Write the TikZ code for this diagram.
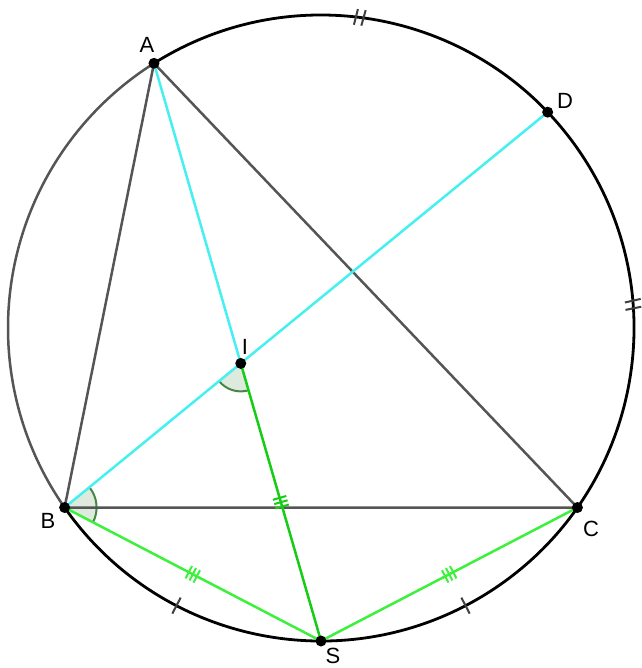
\documentclass[tikz,border=0pt]{standalone}
\usepackage{fontspec}
\setmainfont{Liberation Sans}
\usetikzlibrary{calc,angles,decorations.markings}
\definecolor{tri}{RGB}{85,85,85}
\definecolor{cya}{RGB}{70,240,240}
\definecolor{grn}{RGB}{60,240,60}
\definecolor{grnd}{RGB}{20,205,20}
\definecolor{angf}{RGB}{222,234,222}
\definecolor{angc}{RGB}{70,135,70}
\tikzset{
  circ/.style={line width=2.8pt, black},
  circg/.style={line width=2.5pt, tri},
  triline/.style={line width=2.5pt, tri},
  cyline/.style={line width=2.5pt, cya},
  grline/.style={line width=2.5pt, grn},
  grlined/.style={line width=2.5pt, grnd},
  ptdot/.style={circle, fill=black, inner sep=0pt, minimum size=11pt},
  lab/.style={font=\fontsize{22}{26}\selectfont, inner sep=0pt},
  tick/.style={line width=2pt, black!75},
  triple/.style={postaction={decorate}, decoration={markings, mark=at position 0.5 with {
     \draw[line width=2pt] (-4.5pt,-7pt)--(-4.5pt,7pt) (0pt,-7pt)--(0pt,7pt) (4.5pt,-7pt)--(4.5pt,7pt);}}},
  angm/.style={draw=angc, fill=angf, line width=2pt}
}
\begin{document}
\begin{tikzpicture}[x=1pt,y=1pt]
\useasboundingbox (0,0) rectangle (641,-668);
\def\R{313}
\coordinate (O) at (321,-328);
\coordinate (A) at ($(O)+(122.25:\R)$);
\coordinate (B) at ($(O)+(215:\R)$);
\coordinate (C) at ($(O)+(325:\R)$);
\coordinate (S) at ($(O)+(270:\R)$);
\coordinate (D) at ($(O)+(43.6:\R)$);
\coordinate (I) at (intersection of A--S and B--D);

% angle marks
\pic[angm, angle radius=28pt] {angle=B--I--S};
\pic[angm, angle radius=32pt] {angle=S--B--D};

% circle
\draw[circg] (B) arc[start angle=215, end angle=122.25, radius=\R];
\draw[circ] (B) arc[start angle=215, end angle=482.25, radius=\R];

% arc ticks
\draw[tick] ($(O)+(82.9+0.9:\R-8)$) -- ($(O)+(82.9+0.5:\R+8)$);
\draw[tick] ($(O)+(82.9-0.5:\R-8)$) -- ($(O)+(82.9-0.9:\R+8)$);
\draw[tick] ($(O)+(4.3+0.5:\R-8)$) -- ($(O)+(4.3+0.9:\R+8)$);
\draw[tick] ($(O)+(4.3-0.9:\R-8)$) -- ($(O)+(4.3-0.5:\R+8)$);
\foreach \t in {242.5,297.5} {
  \draw[tick] ($(O)+(\t:\R-9)$) -- ($(O)+(\t:\R+9)$);
}

% triangle
\draw[triline] (A) -- (B) -- (C) -- cycle;

% bisectors
\draw[cyline] (A) -- (I);
\draw[cyline] (B) -- (D);
\draw[grlined, triple] (I) -- (S);
\draw[grline, triple] (B) -- (S);
\draw[grline, triple] (S) -- (C);

% points
\foreach \p in {A,B,C,D,S,I} { \node[ptdot] (dot\p) at (\p) {}; }

% labels
\node[lab] (lA) at (147,-45) {A};
\node[lab] (lD) at (565,-101) {D};
\node[lab] (lB) at (48,-521) {B};
\node[lab] (lC) at (591,-529) {C};
\node[lab] (lS) at (333,-656) {S};
\node[lab] (lI) at (245,-347) {I};
\end{tikzpicture}
\end{document}
